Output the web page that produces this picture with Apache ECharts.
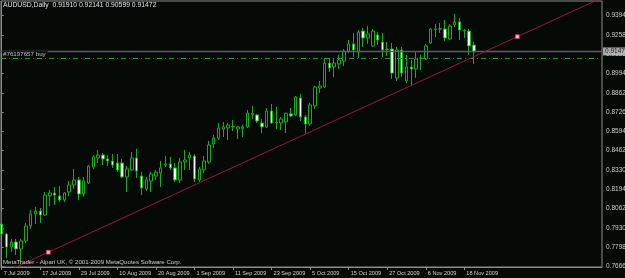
<!DOCTYPE html>
<html><head><meta charset="utf-8">
<script src="https://cdn.jsdelivr.net/npm/echarts@6/dist/echarts.min.js"></script>
<style>html,body{margin:0;padding:0;background:#050a07;}#c{width:625px;height:278px;}</style>
</head><body><div id="c"></div>
<script>
const dates = [
'7 Jul 2009','8 Jul 2009','9 Jul 2009','10 Jul 2009','13 Jul 2009','14 Jul 2009','15 Jul 2009','16 Jul 2009','17 Jul 2009','20 Jul 2009',
'21 Jul 2009','22 Jul 2009','23 Jul 2009','24 Jul 2009','27 Jul 2009','28 Jul 2009','29 Jul 2009','30 Jul 2009','31 Jul 2009',
'3 Aug 2009','4 Aug 2009','5 Aug 2009','6 Aug 2009','7 Aug 2009','10 Aug 2009','11 Aug 2009','12 Aug 2009','13 Aug 2009','14 Aug 2009',
'17 Aug 2009','18 Aug 2009','19 Aug 2009','20 Aug 2009','21 Aug 2009','24 Aug 2009','25 Aug 2009','26 Aug 2009','27 Aug 2009','28 Aug 2009','31 Aug 2009',
'1 Sep 2009','2 Sep 2009','3 Sep 2009','4 Sep 2009','7 Sep 2009','8 Sep 2009','9 Sep 2009','10 Sep 2009','11 Sep 2009','14 Sep 2009',
'15 Sep 2009','16 Sep 2009','17 Sep 2009','18 Sep 2009','21 Sep 2009','22 Sep 2009','23 Sep 2009','24 Sep 2009','25 Sep 2009','28 Sep 2009','29 Sep 2009','30 Sep 2009',
'1 Oct 2009','2 Oct 2009','5 Oct 2009','6 Oct 2009','7 Oct 2009','8 Oct 2009','9 Oct 2009','12 Oct 2009','13 Oct 2009','14 Oct 2009',
'15 Oct 2009','16 Oct 2009','19 Oct 2009','20 Oct 2009','21 Oct 2009','22 Oct 2009','23 Oct 2009','26 Oct 2009','27 Oct 2009','28 Oct 2009','29 Oct 2009','30 Oct 2009',
'2 Nov 2009','3 Nov 2009','4 Nov 2009','5 Nov 2009','6 Nov 2009','9 Nov 2009','10 Nov 2009','11 Nov 2009','12 Nov 2009','13 Nov 2009',
'16 Nov 2009','17 Nov 2009','18 Nov 2009','19 Nov 2009','20 Nov 2009'];

const open = [0.7956,0.7887,0.7797,0.7832,0.7784,0.7839,0.7942,0.8025,0.8046,0.8018,
0.8149,0.8170,0.8149,0.8122,0.8177,0.8225,0.8260,0.8163,0.8239,0.8350,
0.8412,0.8432,0.8405,0.8391,0.8377,0.8377,0.8281,0.8329,0.8412,0.8287,
0.8198,0.8253,0.8287,0.8308,0.8363,0.8370,0.8343,0.8260,0.8384,0.8412,
0.8425,0.8260,0.8329,0.8384,0.8508,0.8550,0.8612,0.8619,0.8626,0.8612,
0.8617,0.8626,0.8709,0.8709,0.8653,0.8626,0.8736,0.8655,0.8653,0.8660,
0.8716,0.8709,0.8826,0.8695,0.8647,0.8771,0.8895,0.8902,0.9067,0.9040,
0.9061,0.9081,0.9150,0.9199,0.9143,0.9288,0.9240,0.9185,0.9261,0.9212,
0.9164,0.9164,0.8964,0.9157,0.8943,0.9040,0.9026,0.9099,0.9095,0.9206,
0.9299,0.9302,0.9302,0.9233,0.9330,0.9351,0.9292,0.9288,0.91910];
const high = [0.8039,0.7894,0.7853,0.7853,0.7853,0.7963,0.8053,0.8073,0.8067,0.8177,
0.8191,0.8212,0.8218,0.8177,0.8253,0.8336,0.8281,0.8281,0.8363,0.8432,
0.8467,0.8446,0.8432,0.8439,0.8439,0.8405,0.8356,0.8453,0.8474,0.8315,
0.8281,0.8315,0.8329,0.8391,0.8425,0.8419,0.8377,0.8412,0.8467,0.8453,
0.8439,0.8350,0.8425,0.8529,0.8571,0.8653,0.8660,0.8653,0.8674,0.8633,
0.8640,0.8743,0.8771,0.8716,0.8681,0.8757,0.8785,0.8764,0.8695,0.8725,
0.8757,0.8840,0.8854,0.8709,0.8791,0.8909,0.8943,0.9102,0.9102,0.9095,
0.9123,0.9164,0.9226,0.9275,0.9295,0.9309,0.9323,0.9302,0.9281,0.9275,
0.9212,0.9206,0.9178,0.9178,0.9123,0.9088,0.9143,0.9123,0.9199,0.9309,
0.9337,0.9344,0.9364,0.9337,0.9406,0.9378,0.9302,0.9302,0.92141];
const low = [0.7880,0.7722,0.7763,0.7742,0.7680,0.7825,0.7922,0.7956,0.7963,0.8011,
0.8080,0.8087,0.8108,0.8108,0.8149,0.8198,0.8122,0.8143,0.8232,0.8336,
0.8377,0.8363,0.8356,0.8343,0.8315,0.8274,0.8177,0.8322,0.8274,0.8156,
0.8184,0.8177,0.8260,0.8212,0.8350,0.8329,0.8246,0.8239,0.8329,0.8329,
0.8246,0.8246,0.8308,0.8370,0.8481,0.8536,0.8557,0.8536,0.8598,0.8543,
0.8557,0.8619,0.8681,0.8653,0.8584,0.8619,0.8647,0.8612,0.8605,0.8584,
0.8695,0.8702,0.8667,0.8584,0.8633,0.8750,0.8860,0.8895,0.9005,0.8971,
0.9026,0.9047,0.9136,0.9109,0.9102,0.9178,0.9199,0.9178,0.9192,0.9109,
0.9116,0.8957,0.8943,0.8971,0.8929,0.8916,0.8964,0.9019,0.9088,0.9199,
0.9247,0.9275,0.9219,0.9226,0.9316,0.9226,0.9240,0.9123,0.90599];
const close = [0.7887,0.7797,0.7832,0.7784,0.7839,0.7942,0.8025,0.8046,0.8018,0.8156,
0.8170,0.8156,0.8122,0.8170,0.8225,0.8260,0.8163,0.8253,0.8356,0.8419,
0.8432,0.8405,0.8391,0.8363,0.8329,0.8281,0.8336,0.8412,0.8322,0.8205,
0.8260,0.8301,0.8315,0.8343,0.8370,0.8343,0.8260,0.8384,0.8398,0.8432,
0.8267,0.8336,0.8391,0.8501,0.8550,0.8619,0.8626,0.8640,0.8630,0.8626,
0.8627,0.8722,0.8720,0.8667,0.8626,0.8736,0.8653,0.8657,0.8681,0.8720,
0.8702,0.8833,0.8695,0.8647,0.8778,0.8902,0.8909,0.9067,0.9033,0.9067,
0.9088,0.9150,0.9199,0.9157,0.9281,0.9240,0.9268,0.9288,0.9226,0.9157,
0.9160,0.8998,0.9157,0.8998,0.9040,0.9026,0.9095,0.9102,0.9185,0.9302,
0.9302,0.9305,0.9240,0.9323,0.9351,0.9295,0.9288,0.9185,0.91472];

const xTickIndex = [0,8,16,24,32,40,48,56,64,72,80,88,96];
const yTickValues = [0.7666,0.7798,0.7930,0.8062,0.8194,0.8330,0.8462,0.8594,0.8726,0.8862,0.8994,0.9126,0.9258,0.9394];
const bidPrice = 0.91472;
const orderPrice = 0.90985;
const orderLabel = '#76197657 buy';
const trendIdx = [9.67, 107];
const trendVal = [0.7761, 0.9249];
const titleText = 'AUDUSD,Daily  0.91910 0.92141 0.90599 0.91472';
const footerText = 'MetaTrader - Alpari UK, \u00a9 2001-2009 MetaQuotes Software Corp.';

const X_MIN = -0.145, X_MAX = 124.57, Y_MIN = 0.76591, Y_MAX = 0.94955;
const FONT = '"Liberation Sans", Arial, sans-serif';
const BG = '#050a07';
const GREEN = '#1ea81e';
const AXIS = '#8c8c8c';
const TXT = '#cfcfcf';

const candles = dates.map((d, i) => [i, open[i], close[i], low[i], high[i]]);
const slope = (trendVal[1] - trendVal[0]) / (trendIdx[1] - trendIdx[0]);
const trendLine = [
  [X_MIN, trendVal[0] + slope * (X_MIN - trendIdx[0])],
  [X_MAX, trendVal[0] + slope * (X_MAX - trendIdx[0])]
];

const chart = echarts.init(document.getElementById('c'), null, {renderer: 'canvas'});
chart.setOption({
  animation: false,
  backgroundColor: BG,
  title: [
    {text: titleText, left: 3, top: 2, padding: 0,
     textStyle: {fontSize: 6.8, fontWeight: 'normal', color: '#e2e2e2', fontFamily: FONT}},
    {text: footerText, left: 3, top: 259, padding: 0,
     textStyle: {fontSize: 6.1, fontWeight: 'normal', color: TXT, fontFamily: FONT}}
  ],
  grid: {left: 1, top: 1, right: 23, bottom: 11, containLabel: false, outerBoundsMode: 'none',
    show: true, borderColor: AXIS, borderWidth: 1, backgroundColor: 'transparent'},
  xAxis: {
    type: 'value', min: X_MIN, max: X_MAX, position: 'bottom',
    axisLine: {show: true, lineStyle: {color: AXIS, width: 1}},
    axisTick: {show: true, customValues: xTickIndex, length: 3, lineStyle: {color: AXIS}},
    axisLabel: {show: true, customValues: xTickIndex, formatter: v => dates[Math.round(v)],
      align: 'left', padding: [0, 0, 0, 2], margin: 3, fontSize: 5.6, color: TXT, fontFamily: FONT},
    splitLine: {show: false}
  },
  yAxis: {
    type: 'value', position: 'right', min: Y_MIN, max: Y_MAX,
    axisLine: {show: true, lineStyle: {color: AXIS, width: 1}},
    axisTick: {show: true, customValues: yTickValues, length: 2, lineStyle: {color: AXIS}},
    axisLabel: {show: true, customValues: yTickValues, formatter: v => v.toFixed(5),
      margin: 4, fontSize: 6.5, color: TXT, fontFamily: FONT},
    splitLine: {show: false}
  },
  series: [
    {
      type: 'candlestick', data: candles, barWidth: 3,
      itemStyle: {color: BG, color0: '#effff0', borderColor: GREEN, borderColor0: GREEN, borderWidth: 1},
      z: 2
    },
    {
      type: 'line', data: [[X_MIN, bidPrice], [X_MAX, bidPrice]], symbol: 'none', silent: true,
      lineStyle: {color: '#5c5c6a', width: 1.5, type: 'solid'}, z: 3
    },
    {
      type: 'line', data: [[X_MIN, orderPrice], [X_MAX, orderPrice]], symbol: 'none', silent: true,
      lineStyle: {color: '#1aa01a', width: 1, type: [5, 3, 1, 3]}, z: 4
    },
    {
      type: 'line', data: trendLine, symbol: 'none', clip: true, silent: true,
      lineStyle: {color: '#9a1838', width: 1}, z: 5
    },
    {
      type: 'scatter', data: trendIdx.map((x, i) => [x, trendVal[i]]),
      symbol: 'rect', symbolSize: 4, silent: true,
      itemStyle: {color: '#fff0f0', borderColor: '#d02040', borderWidth: 1}, z: 6
    },
    {
      type: 'scatter', clip: false, silent: true, symbolSize: 0, z: 7,
      data: [{value: [X_MIN, orderPrice], label: {show: true, formatter: orderLabel, position: [1, -7.5],
        align: 'left', verticalAlign: 'top', color: '#e2e2e2', backgroundColor: BG,
        fontSize: 6.2, fontFamily: FONT, padding: [0, 2, 0, 1]}},
        {value: [X_MAX, bidPrice], label: {show: true, formatter: bidPrice.toFixed(5), position: [1, 0],
        align: 'left', verticalAlign: 'middle', color: '#000', backgroundColor: '#cfcfcf',
        fontSize: 6.5, fontFamily: FONT, padding: [1, 4, 0, 2]}}]
    }
  ]
});
</script></body></html>
